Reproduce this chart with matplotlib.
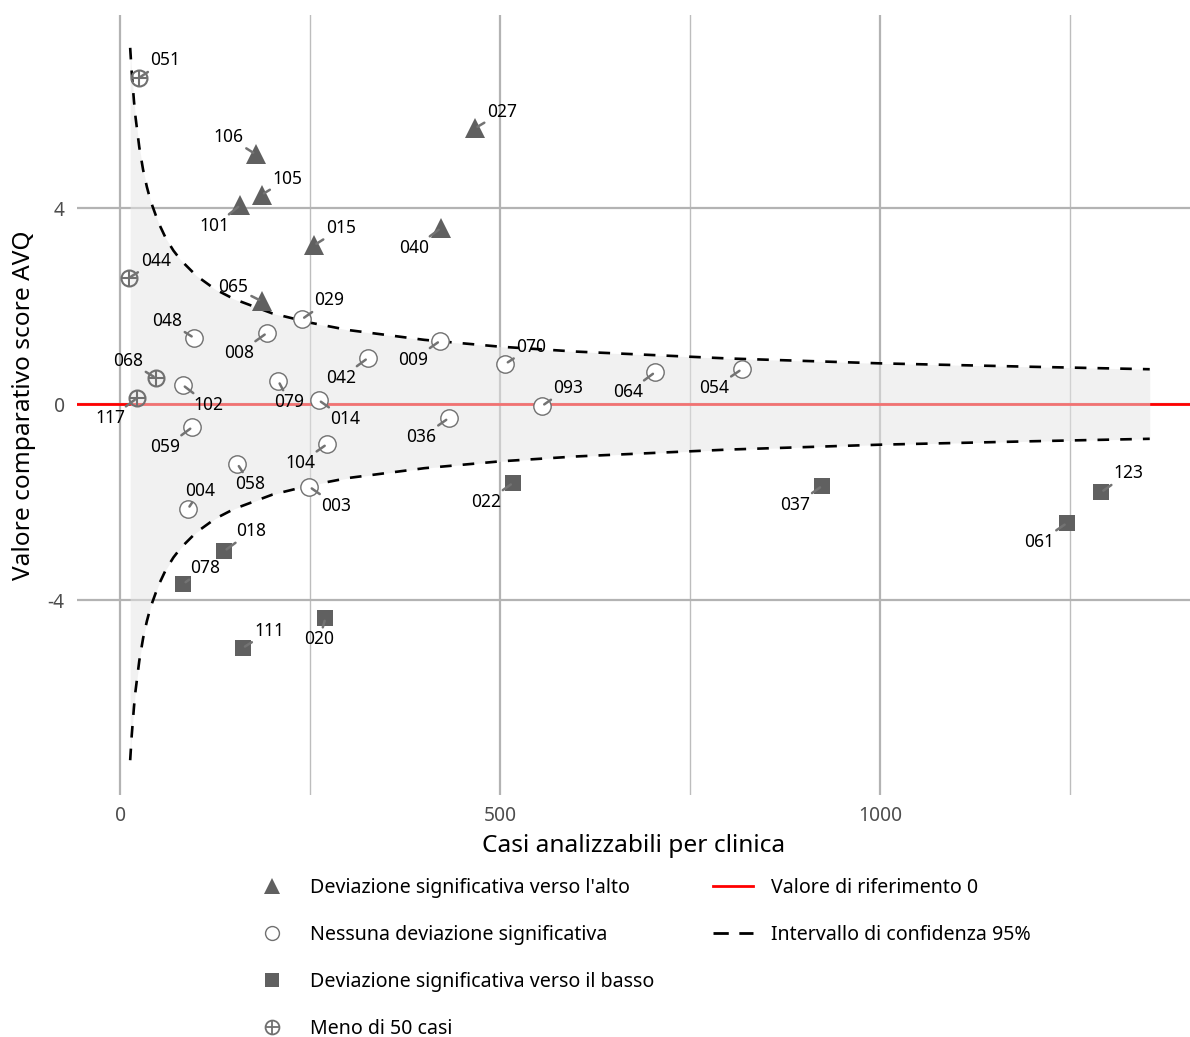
import numpy as np
import matplotlib.pyplot as plt
from matplotlib.lines import Line2D

plt.rcParams['font.family'] = ['Noto Sans', 'DejaVu Sans']
plt.rcParams['axes.unicode_minus'] = False

# --- data ---
# significant deviation upwards
up_ids = ['027', '106', '105', '101', '015', '040', '065']
up_n = [467, 178, 186, 158, 255, 422, 186]
up_score = [5.63, 5.10, 4.27, 4.06, 3.24, 3.59, 2.10]

# no significant deviation
ns_ids = ['029', '048', '008', '009', '070', '042', '064', '054', '079', '102',
          '014', '093', '036', '059', '104', '058', '003', '004']
ns_n = [239, 97, 193, 421, 507, 326, 704, 818, 208, 82,
        261, 555, 432, 95, 272, 154, 249, 89]
ns_score = [1.73, 1.35, 1.45, 1.29, 0.82, 0.94, 0.65, 0.71, 0.47, 0.39,
            0.08, -0.04, -0.29, -0.47, -0.82, -1.22, -1.69, -2.14]

# significant deviation downwards
down_ids = ['022', '037', '123', '061', '018', '078', '020', '111']
down_n = [517, 924, 1291, 1246, 137, 83, 270, 161]
down_score = [-1.61, -1.67, -1.80, -2.43, -3.00, -3.67, -4.37, -4.98]

# fewer than 50 cases
few_ids = ['051', '044', '068', '117']
few_n = [24, 11, 47, 22]
few_score = [6.65, 2.57, 0.53, 0.12]

# 95% confidence limits
ci_n = [13, 15, 18, 20, 25, 30, 35, 40, 50, 60, 70, 80, 100, 125, 150, 200,
        250, 300, 400, 500, 600, 800, 1000, 1200, 1355]
ci_upper = [7.27, 6.77, 6.18, 5.86, 5.24, 4.78, 4.43, 4.14, 3.71, 3.38, 3.13,
            2.93, 2.62, 2.34, 2.14, 1.85, 1.66, 1.51, 1.31, 1.17, 1.07, 0.93,
            0.83, 0.76, 0.71]
ci_lower = [-7.27, -6.77, -6.18, -5.86, -5.24, -4.78, -4.43, -4.14, -3.71,
            -3.38, -3.13, -2.93, -2.62, -2.34, -2.14, -1.85, -1.66, -1.51,
            -1.31, -1.17, -1.07, -0.93, -0.83, -0.76, -0.71]

# label offsets from the point, in pixels (dx right, dy down)
label_offsets = {
    '027': (27, -16), '106': (-27, -17), '105': (26, -16), '101': (-26, 21),
    '015': (27, -17), '040': (-27, 20), '065': (-28, -14), '029': (27, -19),
    '048': (-27, -17), '008': (-28, 20), '009': (-27, 19), '070': (26, -17),
    '042': (-27, 20), '064': (-27, 20), '054': (-28, 19), '079': (11, 21),
    '102': (26, 20), '014': (27, 19), '093': (26, -18), '036': (-27, 19),
    '059': (-27, 20), '104': (-27, 19), '058': (13, 20), '003': (27, 19),
    '004': (12, -18), '022': (-27, 19), '037': (-27, 19), '123': (27, -19),
    '061': (-28, 19), '018': (27, -20), '078': (22, -16), '020': (-6, 21),
    '111': (27, -17), '051': (27, -18), '044': (27, -17), '068': (-28, -17),
    '117': (-27, 20),
}

dark = '#606060'
edge = '#707070'

fig = plt.figure(figsize=(11.9, 10.37), dpi=100)
ax = fig.add_axes([77 / 1190, 1 - 795 / 1037, 1 - 77 / 1190, 780 / 1037])
ax.set_xlim(-57, 1408)
ax.set_ylim(-7.98, 7.94)

ax.set_xticks([0, 500, 1000])
ax.set_xticks([250, 750, 1250], minor=True)
ax.set_yticks([-4, 0, 4])
ax.grid(which='major', color='#b3b3b3', lw=1.6, zorder=0)
ax.grid(which='minor', axis='x', color='#bdbdbd', lw=1.0, zorder=0)
ax.set_axisbelow(True)
for s in ax.spines.values():
    s.set_visible(False)
ax.tick_params(which='both', length=0, labelsize=13.8, labelcolor='#4d4d4d')
ax.tick_params(axis='x', pad=8)
ax.tick_params(axis='y', pad=9)

ax.axhline(0, color='#ff0000', lw=2.0, zorder=1)
ax.fill_between(ci_n, ci_lower, ci_upper, color='#e5e5e5', alpha=0.5, lw=0, zorder=1.5)
ax.plot(ci_n, ci_upper, color='black', lw=1.9, ls=(0, (4.4, 4.2)), zorder=2)
ax.plot(ci_n, ci_lower, color='black', lw=1.9, ls=(0, (4.4, 4.2)), zorder=2)

ax.plot(up_n, up_score, ls='none', marker='^', ms=14, color=dark, mew=0, zorder=3)
ax.plot(ns_n, ns_score, ls='none', marker='o', ms=12.5, mfc='white', mec=edge, mew=1.0, zorder=3)
ax.plot(down_n, down_score, ls='none', marker='s', ms=12, color=dark, mew=0, zorder=3)
ax.plot(few_n, few_score, ls='none', marker='o', ms=11.5, mfc='none', mec=edge, mew=1.5, zorder=3)
ax.plot(few_n, few_score, ls='none', marker='+', ms=11.5, mec=edge, mew=1.5, zorder=3)

for ids, ns, ss in [(up_ids, up_n, up_score), (ns_ids, ns_n, ns_score),
                    (down_ids, down_n, down_score), (few_ids, few_n, few_score)]:
    for lab, n, s in zip(ids, ns, ss):
        dx, dy = label_offsets[lab]
        ax.annotate(lab, (n, s), xytext=(dx, -dy), textcoords='offset pixels',
                    ha='center', va='center', fontsize=12.5, color='black', zorder=4,
                    arrowprops=dict(arrowstyle='-', color='#737373', lw=1.8,
                                    shrinkA=0, shrinkB=2))

ax.set_xlabel('Casi analizzabili per clinica', fontsize=17.6, labelpad=6)
ax.set_ylabel('Valore comparativo score AVQ', fontsize=17.6, labelpad=8)

blank = Line2D([], [], alpha=0)
handles = [
    Line2D([], [], ls='none', marker='^', ms=11, color=dark, mew=0),
    Line2D([], [], ls='none', marker='o', ms=10, mfc='white', mec=edge, mew=1.0),
    Line2D([], [], ls='none', marker='s', ms=10, color=dark, mew=0),
    (Line2D([], [], ls='none', marker='o', ms=10, mfc='none', mec=edge, mew=1.3),
     Line2D([], [], ls='none', marker='+', ms=10, mec=edge, mew=1.3)),
    Line2D([], [], color='#ff0000', lw=2.0),
    Line2D([], [], color='black', lw=2.0, ls=(0, (5.5, 3.8))),
    blank, blank,
]
labels = ["Deviazione significativa verso l'alto", 'Nessuna deviazione significativa',
          'Deviazione significativa verso il basso', 'Meno di 50 casi',
          'Valore di riferimento 0', 'Intervallo di confidenza 95%', '', '']
fig.legend(handles, labels, ncol=2, loc='upper left',
           bbox_to_anchor=(252 / 1190, 1 - 878 / 1037), frameon=False,
           fontsize=14.1, handlelength=2.04, handletextpad=0.92,
           labelspacing=1.38, columnspacing=3.0, borderpad=0, borderaxespad=0)

fig.savefig('out.png', dpi=100)
